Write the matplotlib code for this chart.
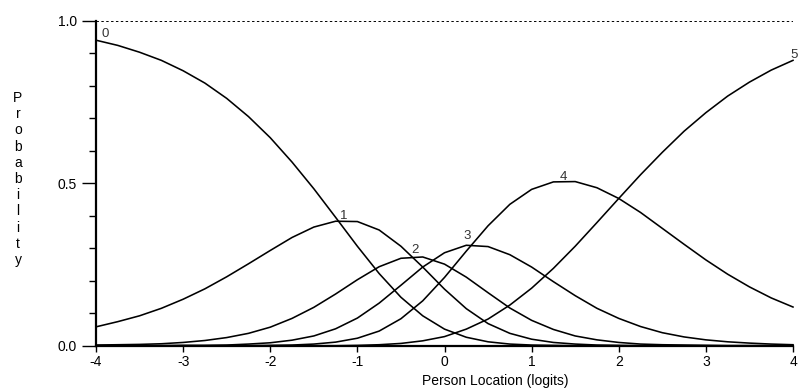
import matplotlib
matplotlib.use("Agg")
import matplotlib.pyplot as plt
from matplotlib.ticker import MultipleLocator

# Person location grid (logits)
locations = [-4.00, -3.75, -3.50, -3.25, -3.00, -2.75, -2.50, -2.25, -2.00, -1.75,
             -1.50, -1.25, -1.00, -0.75, -0.50, -0.25, 0.00, 0.25, 0.50, 0.75,
             1.00, 1.25, 1.50, 1.75, 2.00, 2.25, 2.50, 2.75, 3.00, 3.25,
             3.50, 3.75, 4.00]

cat0 = [0.940, 0.924, 0.903, 0.878, 0.846, 0.808, 0.761, 0.705, 0.640, 0.565,
        0.483, 0.395, 0.306, 0.222, 0.149, 0.092, 0.051, 0.026, 0.012, 0.005,
        0.002, 0.001, 0.000, 0.000, 0.000, 0.000, 0.000, 0.000, 0.000, 0.000,
        0.000, 0.000, 0.000]
cat1 = [0.058, 0.074, 0.092, 0.115, 0.143, 0.175, 0.212, 0.252, 0.293, 0.333,
        0.365, 0.383, 0.382, 0.356, 0.306, 0.242, 0.174, 0.114, 0.068, 0.038,
        0.020, 0.010, 0.005, 0.002, 0.001, 0.000, 0.000, 0.000, 0.000, 0.000,
        0.000, 0.000, 0.000]
cat2 = [0.002, 0.003, 0.004, 0.006, 0.010, 0.016, 0.025, 0.038, 0.057, 0.084,
        0.118, 0.159, 0.203, 0.243, 0.269, 0.273, 0.251, 0.211, 0.163, 0.116,
        0.078, 0.050, 0.030, 0.018, 0.010, 0.005, 0.003, 0.002, 0.001, 0.000,
        0.000, 0.000, 0.000]
cat3 = [0.000, 0.000, 0.000, 0.000, 0.001, 0.001, 0.002, 0.005, 0.009, 0.017,
        0.030, 0.052, 0.085, 0.131, 0.186, 0.242, 0.286, 0.309, 0.305, 0.280,
        0.242, 0.197, 0.154, 0.115, 0.084, 0.059, 0.040, 0.027, 0.018, 0.012,
        0.008, 0.005, 0.003]
cat4 = [0.000, 0.000, 0.000, 0.000, 0.000, 0.000, 0.000, 0.000, 0.001, 0.002,
        0.005, 0.011, 0.023, 0.045, 0.083, 0.138, 0.210, 0.291, 0.369, 0.435,
        0.481, 0.504, 0.505, 0.486, 0.453, 0.410, 0.361, 0.312, 0.264, 0.220,
        0.181, 0.147, 0.119]
cat5 = [0.000, 0.000, 0.000, 0.000, 0.000, 0.000, 0.000, 0.000, 0.000, 0.000,
        0.000, 0.000, 0.001, 0.003, 0.007, 0.015, 0.028, 0.051, 0.082, 0.125,
        0.177, 0.238, 0.306, 0.379, 0.453, 0.526, 0.595, 0.660, 0.717, 0.768,
        0.811, 0.848, 0.878]

categories = ["0", "1", "2", "3", "4", "5"]
series = [cat0, cat1, cat2, cat3, cat4, cat5]
# label anchor positions (data coords)
label_x = [-3.89, -1.16, -0.34, 0.26, 1.37, 4.01]
label_y = [0.960, 0.400, 0.294, 0.337, 0.520, 0.894]

x_ticks = [-4, -3, -2, -1, 0, 1, 2, 3, 4]
y_ticks = [0.0, 0.5, 1.0]
y_ticklabels = ["0.0", "0.5", "1.0"]

plt.rcParams['font.family'] = ['Liberation Sans', 'DejaVu Sans']

W, H = 798, 389
fig = plt.figure(figsize=(W / 100, H / 100), dpi=100)
ax = fig.add_axes([96 / W, 1 - 345.7 / H, (793 - 96) / W, (345.7 - 20.7) / H])

for vals in series:
    ax.plot(locations, vals, color='black', lw=1.15, solid_joinstyle='round',
            clip_on=False, zorder=3)

for lab, lx, ly in zip(categories, label_x, label_y):
    ax.text(lx, ly, lab, fontsize=9.5, color='#333333', ha='center', va='center',
            zorder=4, clip_on=False)

ax.axhline(1.0, color='black', lw=0.7, ls=(0, (2.5, 2.5)), zorder=2)

ax.set_xlim(-4, 4)
ax.set_ylim(0, 1)

for s in ['top', 'right']:
    ax.spines[s].set_visible(False)
ax.spines['left'].set_linewidth(1.6)
ax.spines['bottom'].set_linewidth(1.6)

ax.set_xticks(x_ticks)
ax.set_xticklabels([str(t) for t in x_ticks])
ax.set_yticks(y_ticks)
ax.set_yticklabels(y_ticklabels)
ax.yaxis.set_minor_locator(MultipleLocator(0.1))
ax.tick_params(axis='y', which='major', length=10, width=1.0, direction='out',
               labelsize=10, pad=3.5)
ax.tick_params(axis='y', which='minor', length=5, width=1.0, direction='out')
ax.tick_params(axis='x', which='major', length=4, width=1.0, direction='out',
               labelsize=10, pad=3)

fig.text(495 / W, 1 - 381 / H, "Person Location (logits)", ha='center', va='center',
         fontsize=10)
fig.text(18 / W, 1 - 179 / H, "\n".join("Probability"), ha='center', va='center',
         fontsize=10, linespacing=1.2)

fig.savefig("out.png", dpi=100)
